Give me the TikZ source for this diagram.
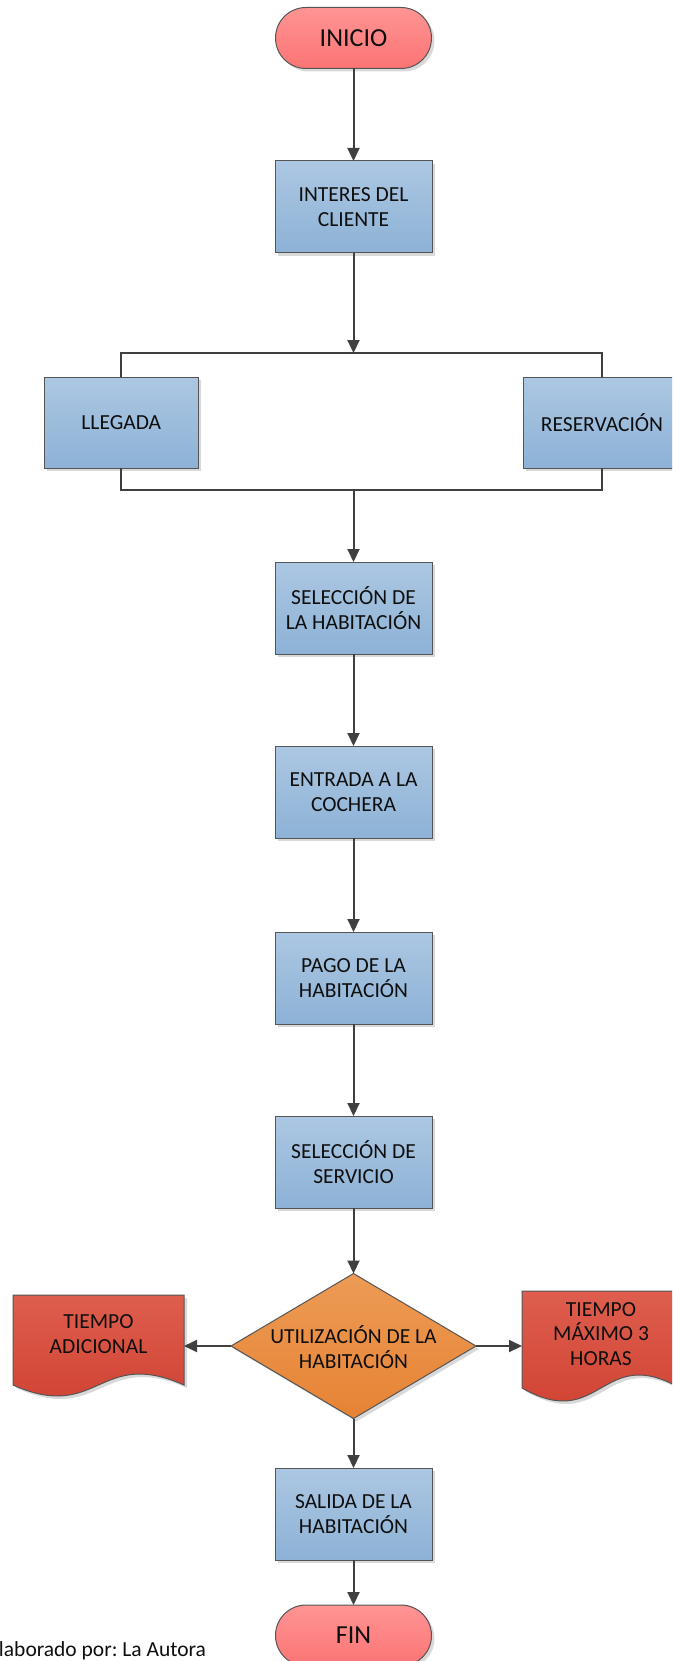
\documentclass[tikz,border=0pt]{standalone}
\usepackage{fontspec}
\setmainfont{Carlito}
\usetikzlibrary{shapes.geometric,shadows,arrows.meta,calc}
\definecolor{boxtop}{RGB}{172,199,226}
\definecolor{boxbot}{RGB}{141,178,214}
\definecolor{termtop}{RGB}{255,148,148}
\definecolor{termbot}{RGB}{252,116,116}
\definecolor{dectop}{RGB}{237,155,86}
\definecolor{decbot}{RGB}{230,131,52}
\definecolor{doctop}{RGB}{222,94,78}
\definecolor{docbot}{RGB}{206,62,46}
\definecolor{bordercol}{RGB}{85,85,85}
\definecolor{linecol}{RGB}{64,64,64}
\definecolor{txtcol}{RGB}{15,15,15}
\frenchspacing
\begin{document}
\begin{tikzpicture}[x=1pt,y=-1pt,
  every node/.style={font=\fontsize{21.5}{24.5}\selectfont, text=txtcol, align=center, inner sep=0pt, outer sep=0pt},
  shad/.style={drop shadow={shadow xshift=3pt,shadow yshift=-3pt,fill=black,opacity=0.15}},
  proc/.style={rectangle, draw=bordercol, line width=1pt, top color=boxtop, bottom color=boxbot, minimum width=157pt, minimum height=92pt, shad},
  term/.style={rectangle, rounded corners=30.5pt, draw=bordercol, line width=1pt, top color=termtop, bottom color=termbot, minimum width=156pt, minimum height=61pt, font=\fontsize{26}{30}\selectfont, shad},
  dec/.style={diamond, draw=bordercol, line width=1pt, top color=dectop, bottom color=decbot, minimum width=245pt, minimum height=145pt, shad},
  docbox/.style={rectangle, minimum width=#1, minimum height=90pt},
  arr/.style={draw=linecol, line width=2pt, -{Triangle[length=13pt,width=12pt]}},
  conn/.style={draw=linecol, line width=2pt},
]
\useasboundingbox (0,0) rectangle (672,1661);
\fill[white] (0,0) rectangle (672,1661);
\clip (0,0) rectangle (672,1661);

% nodes
\node[term] (ini) at (353.5,38) {INICIO};
\node[proc] (int) at (353.5,207) {INTERES DEL\\CLIENTE};
\node[proc, minimum width=154pt, minimum height=91pt] (lle) at (121.3,422.5) {LLEGADA};
\node[proc, minimum width=158pt, minimum height=91pt] (res) at (602,422.5) {RESERVACIÓN};
\node[proc] (sha) at (353.5,608) {SELECCIÓN DE\\LA HABITACIÓN};
\node[proc] (ent) at (353.5,792) {ENTRADA A LA\\COCHERA};
\node[proc] (pag) at (353.5,978) {PAGO DE LA\\HABITACIÓN};
\node[proc] (ser) at (353.5,1162) {SELECCIÓN DE\\SERVICIO};
\node[dec] (dia) at (353.5,1346) {};
\node (diat) at (353.5,1347) {UTILIZACIÓN DE LA\\HABITACIÓN};
\node[proc] (sal) at (353.5,1514) {SALIDA DE LA\\HABITACIÓN};
\node[term] (fin) at (353.5,1635.5) {FIN};

% document shapes
\fill[black,opacity=0.15] (16,1298) -- (187,1298) -- (187,1388) .. controls (101.5,1350) and (101.5,1426) .. (16,1388) -- cycle;
\shadedraw[draw=bordercol, line width=1pt, top color=doctop, bottom color=docbot]
  (13,1295) -- (184,1295) -- (184,1385) .. controls (98.5,1347) and (98.5,1423) .. (13,1385) -- cycle;
\node[docbox=171pt] (ldoc) at (98.5,1340) {};
\node (ldoct) at (98.5,1334) {TIEMPO\\ADICIONAL};

\fill[black,opacity=0.15] (525,1294) -- (683,1294) -- (683,1391) .. controls (604,1346) and (604,1436) .. (525,1391) -- cycle;
\shadedraw[draw=bordercol, line width=1pt, top color=doctop, bottom color=docbot]
  (522,1291) -- (680,1291) -- (680,1388) .. controls (601,1343) and (601,1433) .. (522,1388) -- cycle;
\node[docbox=158pt] (rdoc) at (601,1339.5) {};
\node (rdoct) at (601,1334) {TIEMPO\\MÁXIMO 3\\HORAS};

% junctions
\coordinate (jt) at (353.5,353);
\coordinate (jb) at (353.5,490);

% connectors
\draw[arr] (ini) -- (int);
\draw[arr] (int) -- (jt);
\draw[conn] (lle.north) |- (jt) -| (res.north);
\draw[conn] (lle.south) |- (jb) -| (res.south);
\draw[arr] (jb) -- (sha);
\draw[arr] (sha) -- (ent);
\draw[arr] (ent) -- (pag);
\draw[arr] (pag) -- (ser);
\draw[arr] (ser) -- (dia.north);
\draw[arr] (dia.south) -- (sal);
\draw[arr] (sal) -- (fin);
\draw[arr] (dia.west) -- (dia.west -| ldoc.east);
\draw[arr] (dia.east) -- (dia.east -| rdoc.west);

% caption (cut at the left edge, as in the reference)
\node[anchor=base west] (cap) at (-11.5,1656) {Elaborado por: La Autora};
\end{tikzpicture}
\end{document}
